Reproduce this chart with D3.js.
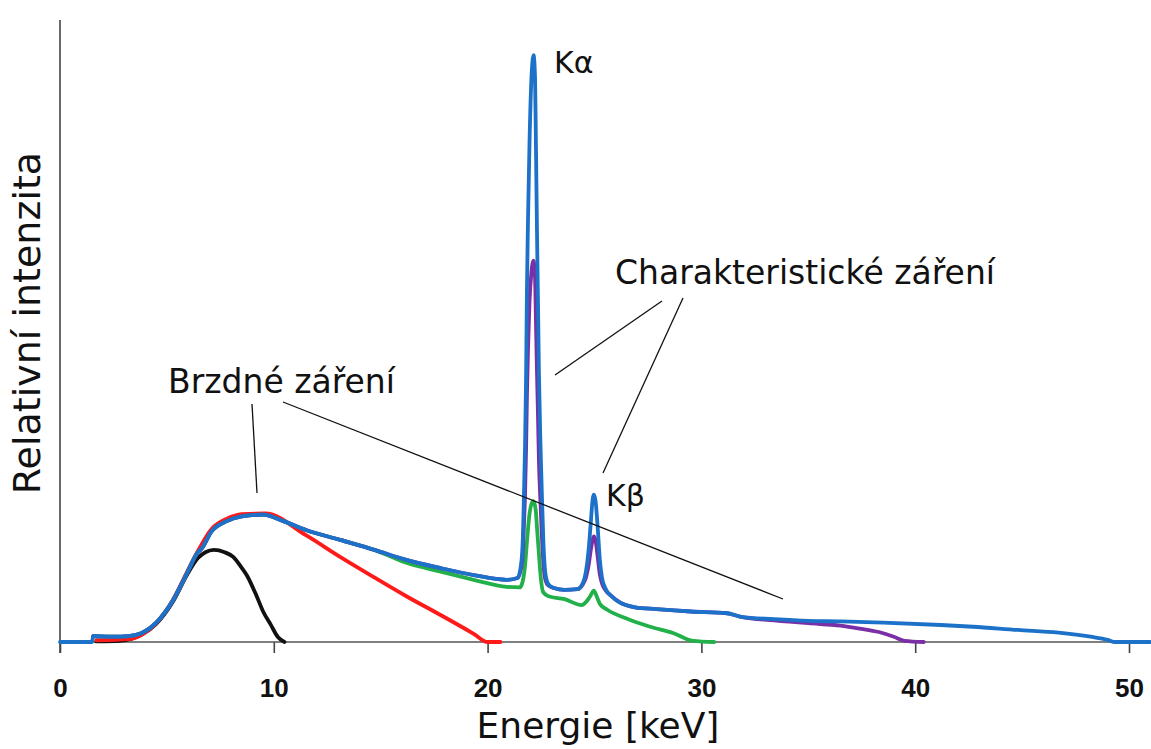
<!DOCTYPE html>
<html>
<head>
<meta charset="utf-8">
<script src="https://cdn.jsdelivr.net/npm/d3@7"></script>
<style>
  html, body { margin: 0; padding: 0; background: #fff; }
  svg { display: block; }
  .ann { font-family: "DejaVu Sans", sans-serif; fill: #111; }
</style>
</head>
<body>
<svg id="chart" width="1151" height="749"></svg>
<script>
// X-ray tube spectra (relative intensity vs photon energy) for tube voltages 10–50 kV
const xTicks = [0, 10, 20, 30, 40, 50];

const spectrum10kV = [[1.7,0.1],[2.8,0.2],[3.8,1.2],[4.5,3.1],[5.3,7.0],[5.95,11.5],[6.45,14.3],[6.8,15.3],[7.2,15.7],[7.7,15.3],[8.1,14.5],[8.45,12.9],[8.75,11.3],[9.2,7.8],[9.5,5.2],[9.85,3.0],[10.2,0.8],[10.5,0]];

const spectrum20kV = [[1.7,0.3],[3.2,0.5],[3.8,1.2],[4.5,3.2],[5.3,7.3],[5.95,12],[6.45,15.5],[7.1,19.3],[7.8,21.0],[8.5,21.8],[9.6,21.9],[11.5,18.2],[13.1,14.5],[14.7,11.0],[16.2,7.8],[17.8,4.6],[19.35,1.4],[20.0,0],[20.6,0]];

const spectrum30kV = [[1.55,1.0],[2.5,0.9],[3.2,1.0],[3.8,1.5],[4.5,3.3],[5.3,7.2],[5.95,11.8],[6.45,15.3],[6.6,15.8],[7.1,18.9],[7.8,20.6],[8.5,21.4],[9.5,21.7],[10.45,20.6],[11.5,19.1],[13.1,17.4],[14.7,15.7],[16.2,13.5],[17.8,12.0],[19.35,10.6],[20.9,9.4],[21.5,9.3],[21.6,9.8],[21.75,13],[21.85,17.5],[21.95,21.5],[22.05,23.5],[22.15,24],[22.25,22.5],[22.32,19],[22.4,15],[22.5,10.5],[22.6,8.5],[22.85,7.8],[23.6,7.3],[24.4,6.3],[24.6,6.8],[24.8,7.8],[24.97,8.75],[25.1,7.8],[25.25,6.5],[25.6,5.5],[26.5,4.0],[27.6,2.6],[28.7,1.5],[29.6,0.2],[30.6,0]];

const spectrum40kV = [[1.55,1.0],[2.5,0.9],[3.2,1.0],[3.8,1.5],[4.5,3.3],[5.3,7.2],[5.95,11.8],[6.45,15.3],[6.6,15.8],[7.1,18.9],[7.8,20.6],[8.5,21.4],[9.5,21.7],[10.45,20.6],[11.5,19.1],[13.1,17.4],[14.7,15.7],[16.2,14.0],[17.8,12.6],[19.35,11.4],[20.9,10.6],[21.4,10.9],[21.59,13],[21.66,16],[21.70,20],[21.75,25],[21.80,33],[21.84,42],[21.89,50],[21.96,58],[22.05,63],[22.15,65],[22.22,62],[22.26,55],[22.31,46],[22.36,38],[22.40,31],[22.47,24],[22.54,18],[22.61,13.5],[22.71,10.5],[22.85,9.6],[23.1,9.2],[23.6,8.9],[24.2,9.0],[24.45,9.8],[24.6,11],[24.72,13],[24.82,15.5],[24.92,17.5],[24.97,18],[25.05,17.3],[25.15,14.5],[25.25,11.5],[25.35,10],[25.5,8.9],[25.8,7.8],[26.2,6.7],[26.9,5.9],[27.9,5.6],[29.5,5.2],[31.2,4.9],[31.85,4.3],[33.4,3.7],[35.0,3.2],[36.5,2.8],[37.4,2.3],[38.3,1.7],[39.0,0.9],[39.5,0.2],[40.4,0]];

const spectrum50kV = [[0,0],[1.5,0],[1.55,1.0],[2.5,0.9],[3.2,1.0],[3.8,1.5],[4.5,3.3],[5.3,7.2],[5.95,11.8],[6.45,15.3],[6.6,15.8],[7.1,18.9],[7.8,20.6],[8.5,21.4],[9.5,21.7],[10.45,20.6],[11.5,19.1],[13.1,17.4],[14.7,15.7],[16.2,14.0],[17.8,12.6],[19.35,11.4],[20.9,10.6],[21.4,10.9],[21.59,14],[21.66,19],[21.70,25],[21.75,33],[21.80,45],[21.84,60],[21.89,72],[21.96,85],[22.05,96],[22.15,100],[22.22,96],[22.26,85],[22.31,70],[22.36,57],[22.40,46],[22.47,34],[22.54,25],[22.61,17],[22.71,11.5],[22.85,9.8],[23.1,9.2],[23.6,8.9],[24.2,9.0],[24.45,10],[24.6,12],[24.72,15.5],[24.82,20],[24.92,24.5],[24.97,25.1],[25.05,24],[25.15,19.5],[25.25,14],[25.35,11],[25.5,9.2],[25.8,7.8],[26.2,6.7],[26.9,5.9],[27.9,5.6],[29.5,5.2],[31.2,4.9],[31.85,4.3],[33.4,3.9],[35.0,3.6],[36.5,3.5],[38.5,3.3],[41.2,2.9],[42.7,2.6],[44.8,2.05],[46.7,1.6],[48.2,0.9],[49.0,0.35],[49.3,0],[51,0]];

// drawing order: lower voltages underneath
const series = [
  { data: spectrum10kV, color: "#111111" },
  { data: spectrum20kV, color: "#ff1a1a" },
  { data: spectrum30kV, color: "#22b04a" },
  { data: spectrum40kV, color: "#7a2fa6" },
  { data: spectrum50kV, color: "#1b72c8" }
];

const svg = d3.select("#chart");
const x = d3.scaleLinear().domain([0, 50]).range([60, 1129]);
const y = d3.scaleLinear().domain([0, 106]).range([642, 20]);

// axes
const xAxis = d3.axisBottom(x).tickValues(xTicks).tickSize(11).tickSizeOuter(0).tickFormat(d3.format("d"));
const gx = svg.append("g").attr("transform", "translate(0,642)").call(xAxis);
gx.select(".domain").remove();
gx.selectAll(".tick line").attr("stroke", "#444").attr("stroke-width", 1.6);
gx.selectAll(".tick text")
  .attr("font-family", "'Liberation Sans Narrow', 'Liberation Sans', Arial, sans-serif")
  .attr("font-weight", "bold").attr("font-size", 26).attr("fill", "#111")
  .attr("y", 55).attr("dy", 0);

svg.append("line").attr("x1", x(0)).attr("x2", 1151).attr("y1", y(0)).attr("y2", y(0))
  .attr("stroke", "#555").attr("stroke-width", 1.6);
svg.append("line").attr("x1", x(0)).attr("x2", x(0)).attr("y1", y(106)).attr("y2", 653)
  .attr("stroke", "#444").attr("stroke-width", 1.6);

// spectra
const line = d3.line().x(d => x(d[0])).y(d => y(d[1])).curve(d3.curveMonotoneX);
svg.append("g").selectAll("path").data(series).join("path")
  .attr("d", s => line(s.data))
  .attr("fill", "none")
  .attr("stroke", s => s.color)
  .attr("stroke-width", 3.8)
  .attr("stroke-linejoin", "round")
  .attr("stroke-linecap", "round");

// axis titles
svg.append("text").attr("class", "ann").attr("x", 598).attr("y", 738)
  .attr("text-anchor", "middle").attr("font-size", 36).text("Energie [keV]");
svg.append("text").attr("class", "ann").attr("transform", "translate(40,323) rotate(-90)")
  .attr("text-anchor", "middle").attr("font-size", 38).text("Relativní intenzita");

// annotations
svg.append("text").attr("class", "ann").attr("x", 554).attr("y", 73).attr("font-size", 30).text("Kα");
svg.append("text").attr("class", "ann").attr("x", 606).attr("y", 506).attr("font-size", 30).text("Kβ");
svg.append("text").attr("class", "ann").attr("x", 168).attr("y", 393).attr("font-size", 33).text("Brzdné záření");
svg.append("text").attr("class", "ann").attr("x", 615).attr("y", 284).attr("font-size", 33).text("Charakteristické záření");

const leaders = [
  [252, 404, 257, 493],
  [283, 402, 783, 599],
  [662, 301, 555, 375],
  [683, 298, 603, 473]
];
svg.append("g").selectAll("line").data(leaders).join("line")
  .attr("x1", d => d[0]).attr("y1", d => d[1]).attr("x2", d => d[2]).attr("y2", d => d[3])
  .attr("stroke", "#111").attr("stroke-width", 1.3);
</script>
</body>
</html>
